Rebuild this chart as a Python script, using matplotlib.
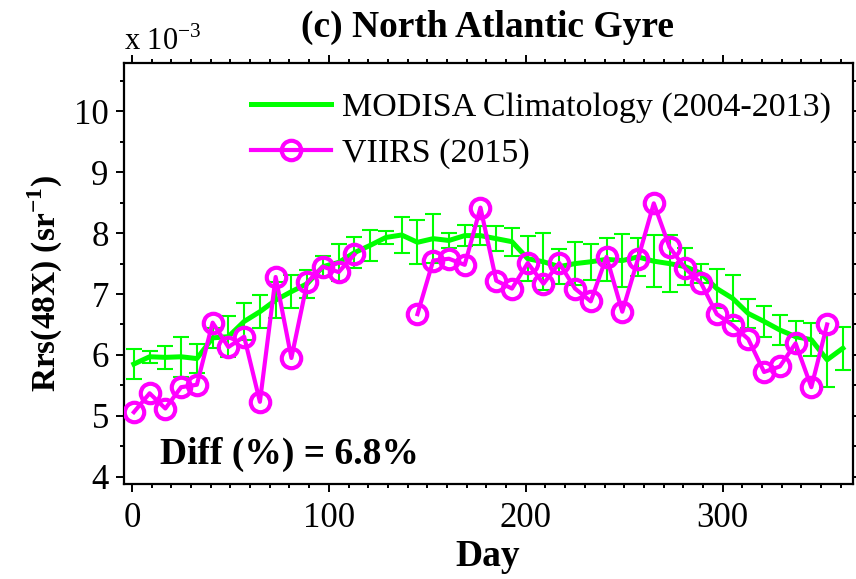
import numpy as np
import matplotlib
matplotlib.use('Agg')
import matplotlib.pyplot as plt
from matplotlib.lines import Line2D
from matplotlib.ticker import MultipleLocator


# 8-day composite start days
days = [1 + 8*k for k in range(46)]

# MODISA climatology mean and std, Rrs in units of 1e-3 sr^-1
modisa_rrs = [5.85, 5.97, 5.96, 5.97, 5.94, 6.28, 6.30, 6.55, 6.71, 6.90,
              7.04, 7.17, 7.45, 7.52, 7.68, 7.80, 7.93, 7.97, 7.85, 7.91,
              7.88, 7.96, 7.96, 7.91, 7.86, 7.58, 7.53, 7.45, 7.50, 7.53,
              7.57, 7.55, 7.61, 7.54, 7.50, 7.45, 7.34, 7.09, 6.93, 6.68,
              6.55, 6.41, 6.30, 6.25, 5.92, 6.11]
modisa_std = [0.25, 0.10, 0.19, 0.33, 0.24, 0.16, 0.34, 0.30, 0.27, 0.30,
              0.27, 0.23, 0.17, 0.31, 0.25, 0.25, 0.10, 0.29, 0.36, 0.40,
              0.12, 0.17, 0.15, 0.21, 0.23, 0.37, 0.47, 0.29, 0.35, 0.30,
              0.35, 0.43, 0.31, 0.43, 0.47, 0.30, 0.16, 0.32, 0.38, 0.24,
              0.25, 0.25, 0.25, 0.27, 0.44, 0.35]

# VIIRS 2015, None where no composite is available
viirs_rrs = [5.06, 5.37, 5.12, 5.47, 5.51, 6.53, 6.13, 6.30, 5.23, 7.28,
             5.95, 7.19, 7.45, 7.36, 7.65, None, None, None, 6.67, 7.55,
             7.58, 7.48, 8.42, 7.22, 7.09, 7.51, 7.17, 7.51, 7.09, 6.88,
             7.61, 6.71, 7.58, 8.49, 7.77, 7.42, 7.18, 6.67, 6.49, 6.26,
             5.72, 5.81, 6.19, 5.47, 6.50, None]

diff_pct = 6.8

GREEN = '#00ff00'
MAGENTA = '#ff00ff'


def create_figure_with_params():
    matplotlib.rcParams.update({'font.family': 'Liberation Serif',
                                'font.size': 24,
                                'mathtext.fontset': 'custom',
                                'mathtext.rm': 'Liberation Serif',
                                'mathtext.bf': 'Liberation Serif:bold',
                                'axes.linewidth': 1.6})
    fig = plt.figure(figsize=(8.56, 5.79), dpi=100)
    ax = fig.add_axes([124/856, 1 - 484/579, 728.7/856, 421.3/579])
    return fig, ax


def plot_rrs():
    fig, ax = create_figure_with_params()

    viirs = np.array([np.nan if v is None else v for v in viirs_rrs])

    # climatology with error bars
    ax.errorbar(days, modisa_rrs, yerr=modisa_std, color=GREEN, lw=3.6,
                elinewidth=1.5, capsize=6, capthick=1.5, zorder=2)

    # VIIRS series
    ax.plot(days, viirs, '-o', color=MAGENTA, lw=3.0, ms=14,
            mfc='none', mec=MAGENTA, mew=3.0, zorder=3)

    ax.set_xlim(-4, 366)
    ax.set_ylim(3.88, 10.8)
    ax.xaxis.set_major_locator(MultipleLocator(100))
    ax.xaxis.set_minor_locator(MultipleLocator(10))
    ax.yaxis.set_major_locator(MultipleLocator(1))
    ax.yaxis.set_minor_locator(MultipleLocator(0.5))
    ax.tick_params(which='both', direction='out', top=True, right=True,
                   labeltop=False, labelright=False, width=1.4)
    ax.tick_params(which='major', length=6, labelsize=25)
    ax.tick_params(axis='x', which='major', pad=7)
    ax.tick_params(axis='y', which='major', pad=5)
    ax.tick_params(which='minor', length=3)

    handles = [Line2D([], [], color=GREEN, lw=3.6),
               Line2D([], [], color=MAGENTA, lw=3.0, marker='o', ms=14,
                      mfc='none', mew=3.0)]
    ax.legend(handles, ['MODISA Climatology (2004-2013)', 'VIIRS (2015)'],
              loc='upper left', bbox_to_anchor=(0.155, 0.962), frameon=False,
              fontsize=24.5, handlelength=2.35, handletextpad=0.35,
              labelspacing=0.42, borderaxespad=0.0)

    ax.text(0.05, 0.069, 'Diff (%%) = %.1f%%' % diff_pct,
            transform=ax.transAxes, fontsize=27, fontweight='bold',
            va='center', ha='left')

    fig.text(488/856, 1 - 27/579, '(c) North Atlantic Gyre', fontsize=27,
             fontweight='bold', ha='center', va='center')
    fig.text(124/856, 1 - 50/579, r'x 10$^{\mathregular{-3}}$', fontsize=22,
             ha='left', va='baseline')
    fig.text(45/856, 1 - 284/579, r'Rrs(48X) (sr$^{\mathbf{-1}}$)',
             fontsize=24, fontweight='bold', rotation=90,
             ha='center', va='center')
    fig.text(488/856, 1 - 557/579, 'Day', fontsize=27, fontweight='bold',
             ha='center', va='center')

    fig.savefig('out.png', dpi=100)


if __name__ == '__main__':
    plot_rrs()
